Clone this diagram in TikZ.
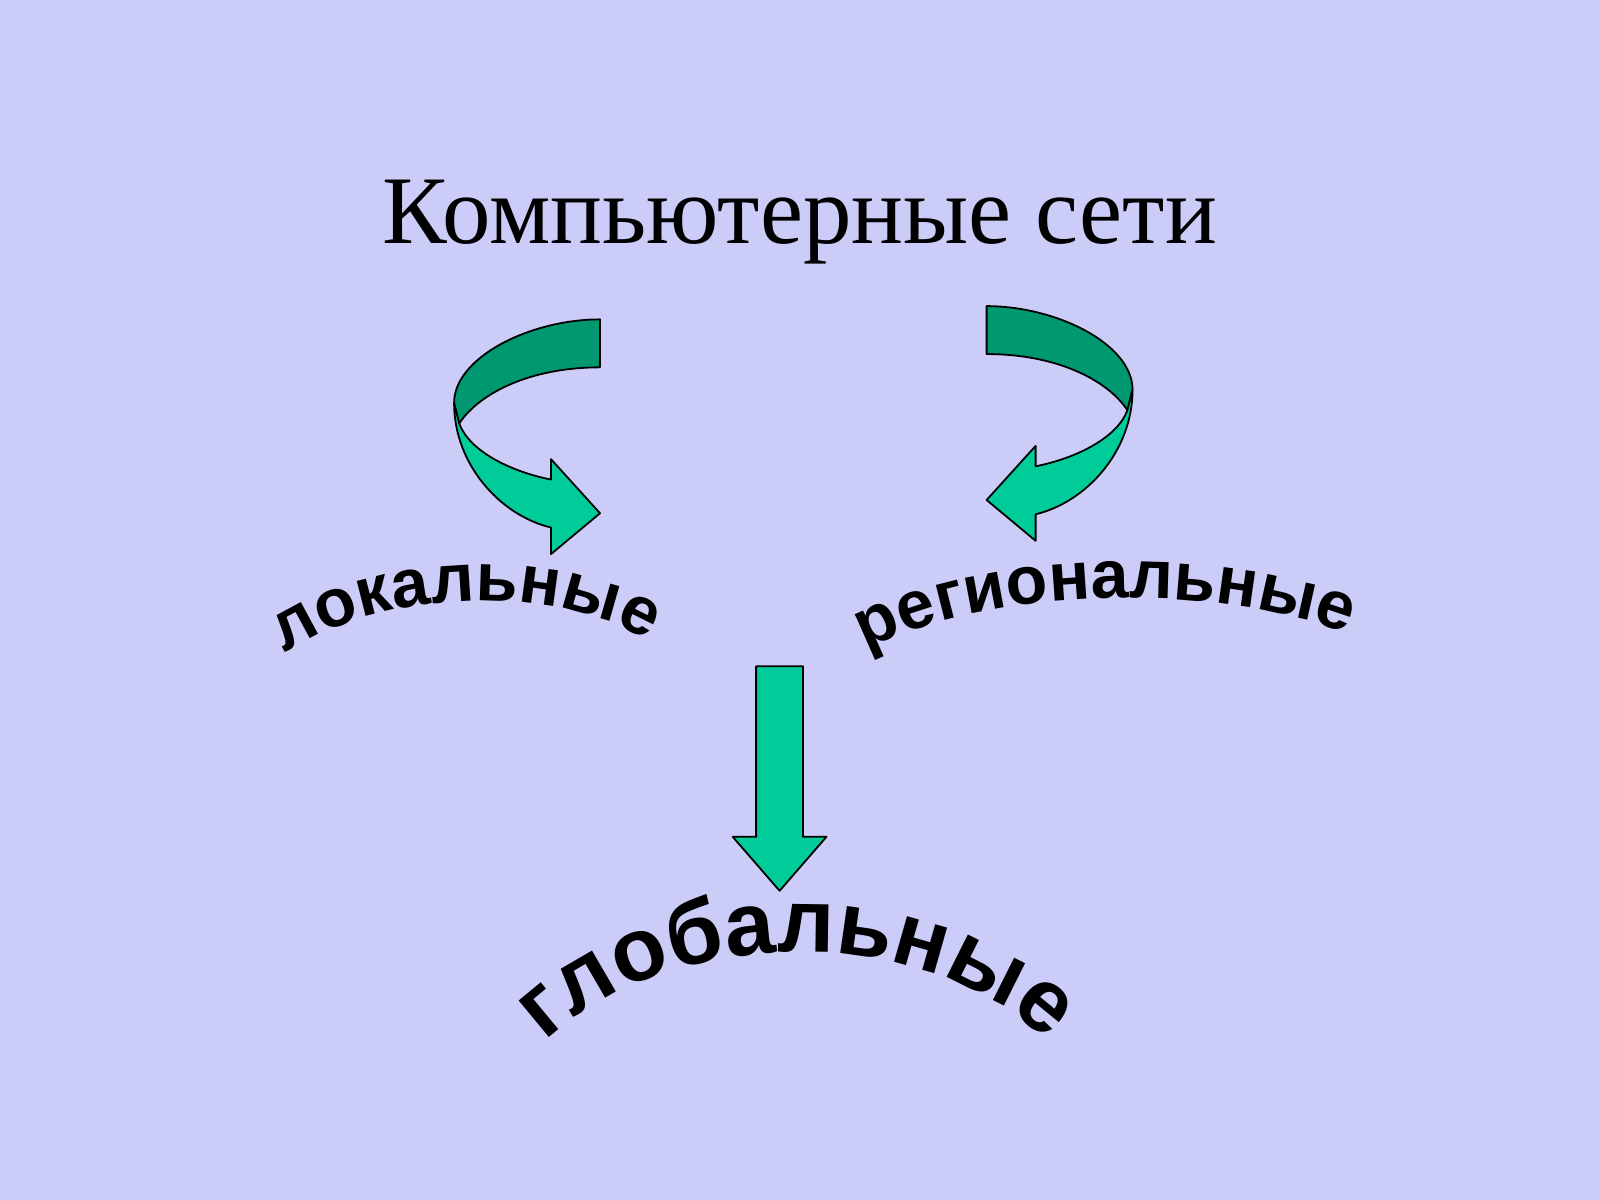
\documentclass[tikz,border=0pt]{standalone}
\usepackage{fontspec}
\setmainfont{Liberation Serif}
\newfontfamily\arialf{Liberation Sans}
\usetikzlibrary{decorations.text}
\definecolor{bg}{HTML}{CCCCF8}
\definecolor{gl}{HTML}{00CC99}
\definecolor{gd}{HTML}{009870}
\tikzset{px/.style={x=0.01cm,y=-0.01cm},
 band/.style={draw=black,line width=0.5pt,line join=round},
 curvetext/.style={decorate,decoration={text along path,text align=center,text={#1}}}}
\newcommand\myarrow{%
 \draw[band,fill=gd] (588,313) .. controls (520,313) and (445,350) .. (445,395) -- (450,415) .. controls (470,385) and (520,360) .. (588,360) -- cycle;
 \draw[band,fill=gl] (445,395) .. controls (445,455) and (490,505) .. (540,517) -- (540,543) -- (588,503) -- (540,450) -- (540,470) .. controls (500,462) and (460,442) .. (450,415) -- cycle;}
\begin{document}
\begin{tikzpicture}[px]
\fill[bg] (0,0) rectangle (1568,1176);
\useasboundingbox (0,0) rectangle (1568,1176);
\node[font=\fontsize{27}{30}\selectfont] (title) at (784,218) {Компьютерные сети};
\begin{scope}\myarrow\end{scope}
\begin{scope}[xscale=-1,xshift=-15.54cm,yshift=0.13cm]\myarrow\end{scope}
\draw[band,fill=gl] (741,653) -- (787,653) -- (787,820) -- (810,820) -- (764,873) -- (718,820) -- (741,820) -- cycle;
\path[curvetext={|\arialf\bfseries\fontsize{19}{20}\selectfont|локальные}] (272,645) .. controls (370,575) and (550,570) .. (642,633);
\path[curvetext={|\arialf\bfseries\fontsize{19}{20}\selectfont|региональные}] (835,645) .. controls (960,570) and (1210,570) .. (1335,627);
\path[curvetext={|\arialf\bfseries\fontsize{25}{26}\selectfont|глобальные}] (530,1025) .. controls (650,905) and (910,900) .. (1030,1025);
\end{tikzpicture}
\end{document}
